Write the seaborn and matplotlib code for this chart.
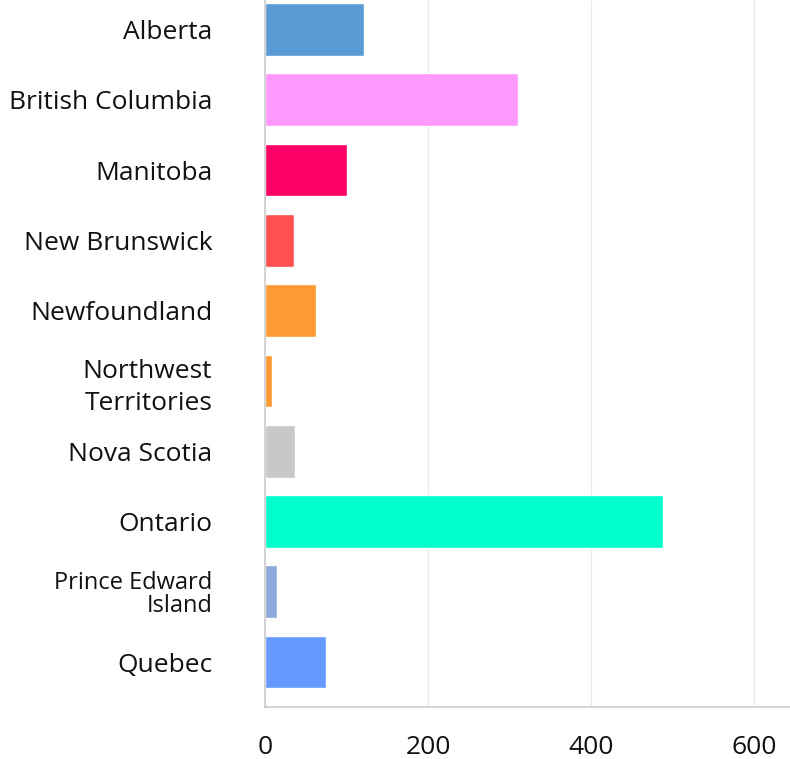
import matplotlib
matplotlib.use("Agg")
import matplotlib.pyplot as plt
import pandas as pd
import seaborn as sns

# Data
provinces = ["Alberta", "British Columbia", "Manitoba", "New Brunswick", "Newfoundland",
             "Northwest\nTerritories", "Nova Scotia", "Ontario", "Prince Edward\nIsland", "Quebec"]
values = [122, 310, 100, 35, 63, 9, 37, 488, 15, 75]
colors = ["#5B9BD5", "#FF99FF", "#FF0066", "#FF5050", "#FF9933",
          "#FF9933", "#C8C8C8", "#00FFCC", "#8EA9DB", "#6699FF"]

df = pd.DataFrame({"province": provinces, "value": values})

sns.set_style("white")
plt.rcParams["font.family"] = ["Open Sans", "DejaVu Sans"]

fig = plt.figure(figsize=(7.9, 7.59), dpi=100)
ax = fig.add_axes([265 / 790, (759 - 707) / 759, (790 - 265) / 790, 707 / 759])

sns.barplot(data=df, y="province", x="value", hue="province",
            palette=dict(zip(provinces, colors)), orient="h",
            width=0.75, legend=False, ax=ax, saturation=1)

ax.set_xlim(0, 644)
ax.set_ylim(9.64, -0.42)
ax.set_xticks([0, 200, 400, 600])
ax.xaxis.grid(True, color="#EBEBEB", linewidth=1)
ax.set_axisbelow(True)
ax.set_xlabel("")
ax.set_ylabel("")

for side in ["top", "right"]:
    ax.spines[side].set_visible(False)
for side in ["left", "bottom"]:
    ax.spines[side].set_color("#CCCCCC")
    ax.spines[side].set_linewidth(1.2)

ax.tick_params(axis="y", length=0, pad=38, labelsize=19, labelcolor="#111111")
ax.tick_params(axis="x", length=0, pad=20, labelsize=19, labelcolor="#111111")
for lbl in ax.get_yticklabels():
    lbl.set_linespacing(1.35)
    if lbl.get_text().startswith("Prince"):
        lbl.set_fontsize(17)
        lbl.set_linespacing(0.95)

fig.savefig("out.png", dpi=100)
